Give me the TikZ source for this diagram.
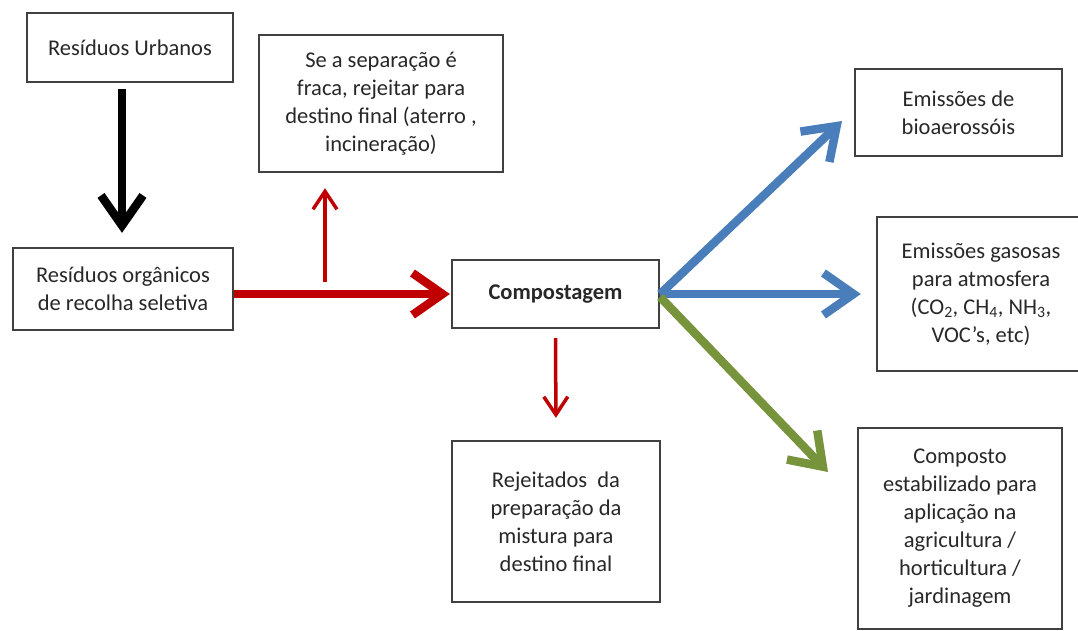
\documentclass[tikz,border=0pt]{standalone}
\usepackage{fontspec}
\setmainfont{Carlito}
\usetikzlibrary{arrows.meta,calc}
\definecolor{redA}{RGB}{192,0,0}
\definecolor{blueA}{RGB}{74,126,187}
\definecolor{greenA}{RGB}{119,147,60}
\definecolor{boxline}{RGB}{64,64,64}
\definecolor{txt}{RGB}{40,40,40}
\tikzset{
  box/.style={draw=boxline, line width=2.3pt, fill=white, align=center, inner sep=0pt,
    text=txt, font=\fontsize{22.5}{28}\selectfont},
  bigarrow/.style={line width=8.5pt, -{Straight Barb[length=30pt,width=42pt]}},
  smallarrow/.style={line width=3.5pt, redA, -{Straight Barb[length=18pt,width=24pt]}},
}
\begin{document}
\begin{tikzpicture}[x=1pt,y=-1pt]
\useasboundingbox (0,0) rectangle (1078,630);
\node[box, minimum width=206pt, minimum height=69pt] (urb) at (130,47.5) {Resíduos Urbanos};
\node[box, minimum width=244pt, minimum height=137pt] (sep) at (381,103.5)
  {Se a separação é\\fraca, rejeitar para\\destino final (aterro ,\\incineração)};
\node[box, minimum width=220pt, minimum height=82pt] (org) at (123,289)
  {Resíduos orgânicos\\de recolha seletiva};
\node[box, minimum width=207pt, minimum height=68pt] (comp) at (555.5,294) {\bfseries Compostagem};
\node[box, minimum width=208pt, minimum height=161pt] (rej) at (556,521.5)
  {Rejeitados~ da\\preparação da\\mistura para\\destino final};
\node[box, minimum width=207pt, minimum height=87pt] (bio) at (958.5,112.5)
  {Emissões de\\bioaerossóis};
\node[box, minimum width=208pt, minimum height=154pt] (gas) at (981,294)
  {Emissões gasosas\\para atmosfera\\(CO\textsubscript{2}, CH\textsubscript{4}, NH\textsubscript{3},\\VOC’s, etc)};
\node[box, minimum width=204pt, minimum height=201pt] (cpt) at (960,528.5)
  {Composto\\estabilizado para\\aplicação na\\agricultura /\\horticultura /\\jardinagem};
\coordinate (jn) at (325,282);
\coordinate (bt) at (842,121);
\coordinate (gt) at (828,472);
% arrows
\draw[bigarrow, black, shorten <=6pt, shorten >=14pt] (urb.south -| 122,0) -- (org.north -| 122,0);
\draw[bigarrow, redA, shorten >=1pt] (org.east |- comp.west) -- (comp.west);
\draw[smallarrow, shorten >=15pt] (jn) -- (jn |- sep.south);
\draw[smallarrow, shorten <=9pt, shorten >=22pt] (comp.south) -- (rej.north);
\draw[bigarrow, blueA] (comp.east) -- (bt);
\draw[bigarrow, blueA, shorten >=15pt] (comp.east) -- (gas.west);
\draw[bigarrow, greenA] ($(comp.east)+(0,3)$) -- (gt);
\end{tikzpicture}
\end{document}
